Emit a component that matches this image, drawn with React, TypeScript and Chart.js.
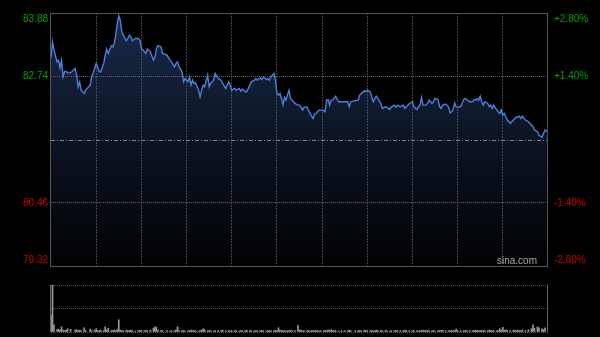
import React, { useEffect, useRef } from 'react';
import { Chart, registerables } from 'chart.js';

Chart.register(...registerables);

// ---- data ----
const minutes = [
  0, 1, 2, 4, 5, 6, 7, 8, 9, 10, 11, 13, 16, 17, 18, 19, 20, 22, 23, 26,
  27, 29, 30, 31, 32, 33, 35, 36, 37, 38, 40, 41, 42, 43, 44, 45, 46, 47, 48, 50,
  51, 52, 53, 54, 56, 58, 59, 60, 62, 63, 64, 66, 68, 69, 70, 71, 73, 74, 77, 79,
  80, 82, 83, 84, 85, 87, 88, 89, 91, 92, 93, 94, 95, 96, 98, 99, 100, 101, 102, 104,
  105, 106, 108, 109, 111, 113, 114, 116, 118, 119, 120, 122, 123, 125, 126, 127, 129, 130, 132, 133,
  135, 136, 137, 139, 140, 141, 143, 144, 145, 146, 148, 149, 150, 151, 152, 153, 154, 155, 156, 157,
  158, 159, 160, 162, 164, 165, 166, 167, 168, 170, 171, 172, 173, 174, 175, 176, 177, 178, 179, 181,
  182, 183, 184, 185, 186, 187, 188, 189, 191, 193, 195, 197, 198, 199, 202, 204, 205, 206, 208, 209,
  210, 212, 213, 214, 215, 216, 217, 219, 220, 222, 223, 225, 226, 228, 229, 230, 232, 234, 235, 236,
  238, 240, 241, 243, 244, 245, 246, 247, 248, 249, 250, 251, 253, 254, 255, 257, 258, 259, 260, 262,
  264, 265, 266, 267, 268, 269, 270, 272, 274, 275, 276, 278, 280, 281, 282, 283, 284, 285, 286, 287,
  288, 290, 291, 292, 293, 294, 296, 297, 298, 299, 300, 301, 302, 303, 305, 307, 308, 309, 310, 311,
  312, 313, 315, 317, 319, 320, 321, 323, 324, 326, 327, 328, 330,
];

const prices = [
  83.07, 83.36, 83.21, 83.0, 83.03, 82.89, 83.03, 82.73, 82.82, 82.83, 82.8, 82.8, 82.88, 82.76, 82.55, 82.64, 82.49, 82.43, 82.49, 82.58,
  82.73, 82.88, 82.97, 82.91, 82.82, 82.82, 82.97, 83.12, 83.23, 83.15, 83.29, 83.27, 83.33, 83.48, 83.69, 83.83, 83.75, 83.54, 83.48, 83.38,
  83.42, 83.48, 83.45, 83.38, 83.42, 83.42, 83.39, 83.24, 83.18, 83.15, 83.23, 83.18, 83.03, 83.09, 83.24, 83.29, 83.27, 83.15, 83.12, 83.03,
  83.0, 82.91, 82.97, 83.0, 82.91, 82.82, 82.64, 82.7, 82.64, 82.73, 82.58, 82.67, 82.61, 82.62, 82.49, 82.37, 82.49, 82.58, 82.55, 82.76,
  82.55, 82.61, 82.67, 82.79, 82.7, 82.67, 82.61, 82.52, 82.64, 82.58, 82.49, 82.52, 82.49, 82.52, 82.47, 82.51, 82.46, 82.46, 82.58, 82.64,
  82.67, 82.7, 82.67, 82.71, 82.68, 82.73, 82.68, 82.7, 82.67, 82.73, 82.79, 82.67, 82.43, 82.4, 82.43, 82.34, 82.22, 82.36, 82.31, 82.4,
  82.49, 82.34, 82.31, 82.25, 82.22, 82.22, 82.18, 82.13, 82.18, 82.19, 82.12, 82.07, 82.02, 81.98, 82.06, 82.07, 82.1, 82.13, 82.13, 82.12,
  82.1, 82.31, 82.32, 82.22, 82.31, 82.31, 82.34, 82.38, 82.28, 82.28, 82.28, 82.28, 82.19, 82.28, 82.3, 82.31, 82.4, 82.43, 82.48, 82.46,
  82.49, 82.46, 82.36, 82.28, 82.34, 82.38, 82.34, 82.25, 82.16, 82.19, 82.18, 82.14, 82.19, 82.22, 82.18, 82.22, 82.19, 82.22, 82.16, 82.19,
  82.25, 82.28, 82.19, 82.14, 82.19, 82.22, 82.36, 82.22, 82.22, 82.22, 82.25, 82.31, 82.25, 82.28, 82.34, 82.32, 82.19, 82.16, 82.22, 82.24,
  82.19, 82.08, 82.1, 82.14, 82.26, 82.19, 82.18, 82.19, 82.32, 82.34, 82.32, 82.28, 82.28, 82.32, 82.31, 82.34, 82.31, 82.38, 82.28, 82.22,
  82.28, 82.25, 82.19, 82.22, 82.16, 82.22, 82.13, 82.1, 82.07, 82.13, 82.04, 82.07, 82.01, 81.95, 81.89, 81.95, 81.98, 82.01, 82.0, 82.02,
  81.98, 82.02, 81.95, 81.92, 81.86, 81.83, 81.77, 81.74, 81.68, 81.64, 81.71, 81.77, 81.74,
];

const volumes = [
  36, 100, 15, 5, 6, 4, 11, 4, 3, 4, 7, 6, 4, 5, 3, 4, 3, 9, 3, 6,
  3, 4, 7, 3, 3, 4, 3, 11, 4, 8, 3, 3, 4, 3, 5, 26, 4, 3, 3, 4,
  3, 3, 4, 3, 2, 3, 3, 4, 3, 3, 3, 4, 8, 11, 10, 4, 3, 3, 3, 2,
  3, 3, 4, 11, 3, 3, 3, 2, 3, 3, 4, 3, 3, 3, 2, 3, 4, 7, 5, 3,
  3, 3, 2, 3, 3, 3, 4, 3, 3, 2, 3, 3, 3, 2, 3, 3, 3, 4, 3, 3,
  3, 2, 3, 3, 3, 3, 2, 3, 3, 3, 3, 3, 3, 9, 4, 3, 3, 3, 2, 3,
  3, 3, 3, 3, 14, 4, 4, 3, 3, 3, 3, 2, 3, 3, 3, 3, 3, 2, 3, 3,
  3, 3, 4, 3, 5, 3, 3, 3, 2, 3, 3, 3, 4, 3, 3, 3, 3, 3, 4, 3,
  3, 3, 3, 2, 3, 4, 3, 3, 3, 3, 3, 2, 3, 3, 3, 3, 3, 3, 4, 3,
  3, 3, 3, 3, 2, 3, 3, 4, 3, 3, 3, 3, 3, 3, 2, 3, 3, 3, 4, 3,
  3, 3, 3, 3, 3, 6, 3, 3, 3, 3, 3, 3, 3, 3, 4, 3, 3, 3, 3, 3,
  3, 3, 4, 3, 3, 3, 3, 3, 7, 4, 10, 4, 4, 3, 3, 4, 3, 3, 4, 3,
  3, 4, 3, 5, 7, 15, 8, 11, 9, 7, 5, 9, 6,
];

const prevClose = 81.6;
const priceTicks = [79.32, 80.46, 81.6, 82.74, 83.88];
const pctTicks = [-2.8, -1.4, 0, 1.4, 2.8];
const timeTicks = [0, 30, 60, 90, 120, 150, 180, 210, 240, 270, 300, 330];
const volumeTicks = [0, 50, 100];
const watermark = 'sina.com';

// ---- styles ----
const FONT = "'Liberation Sans', Arial, Helvetica, sans-serif";
const UP = '#00a000';
const DOWN = '#cc0000';
const TRANSPARENT = 'rgba(0,0,0,0)';

const fixWidth = (w: number) => (s: any) => {
  s.width = w;
  s.paddingTop = 0;
  s.paddingBottom = 0;
};

export default function App() {
  const mainRef = useRef<HTMLCanvasElement | null>(null);
  const volRef = useRef<HTMLCanvasElement | null>(null);

  useEffect(() => {
    document.body.style.margin = '0';
    document.body.style.background = '#000';

    const pMin = priceTicks[0];
    const pMax = priceTicks[priceTicks.length - 1];
    const qMin = pctTicks[0];
    const qMax = pctTicks[pctTicks.length - 1];

    const overlay = {
      id: 'mainOverlay',
      afterDatasetsDraw(chart: any) {
        const { ctx, chartArea, scales } = chart;
        const y = scales.y.getPixelForValue(prevClose);
        ctx.save();
        ctx.strokeStyle = '#7a8494';
        ctx.lineWidth = 1;
        ctx.setLineDash([4, 2, 1, 2]);
        ctx.beginPath();
        ctx.moveTo(chartArea.left, Math.round(y) + 0.5);
        ctx.lineTo(chartArea.right, Math.round(y) + 0.5);
        ctx.stroke();
        ctx.setLineDash([]);
        ctx.strokeStyle = '#555';
        ctx.strokeRect(
          chartArea.left - 0.5,
          chartArea.top + 0.5,
          chartArea.right - chartArea.left,
          chartArea.bottom - chartArea.top
        );
        ctx.fillStyle = '#a8a8a8';
        ctx.font = `10px ${FONT}`;
        ctx.textAlign = 'right';
        ctx.textBaseline = 'middle';
        ctx.fillText(watermark, chartArea.right - 11, chartArea.bottom - 5);
        ctx.restore();
      },
    };

    const main = new Chart(mainRef.current as HTMLCanvasElement, {
      type: 'line',
      data: {
        datasets: [
          {
            data: minutes.map((m, i) => ({ x: m, y: prices[i] })),
            borderColor: '#4b7fd8',
            borderWidth: 1.4,
            pointRadius: 0,
            tension: 0,
            fill: 'start',
            backgroundColor: (c: any) => {
              const { chart } = c;
              const area = chart.chartArea;
              if (!area) return TRANSPARENT;
              const g = chart.ctx.createLinearGradient(0, area.top, 0, area.bottom);
              g.addColorStop(0, 'rgba(60,100,175,0.42)');
              g.addColorStop(0.5, 'rgba(60,100,175,0.2)');
              g.addColorStop(1, 'rgba(60,100,175,0.02)');
              return g;
            },
          },
        ],
      },
      options: {
        responsive: false,
        animation: false,
        devicePixelRatio: 1,
        events: [],
        layout: { padding: { top: 13, bottom: 4, left: 0, right: 0 } },
        plugins: { legend: { display: false }, tooltip: { enabled: false } },
        scales: {
          x: {
            type: 'linear',
            min: 0,
            max: 330,
            offset: false,
            afterBuildTicks: (s: any) => {
              s.ticks = timeTicks.map((v) => ({ value: v }));
            },
            afterFit: (s: any) => {
              s.height = 0;
              s.paddingLeft = 0;
              s.paddingRight = 0;
            },
            ticks: { display: false },
            border: { display: false, dash: [2, 1] },
            grid: {
              drawTicks: false,
              color: (c: any) =>
                c.tick && (c.tick.value === 0 || c.tick.value === 330) ? TRANSPARENT : '#444',
            },
          },
          y: {
            type: 'linear',
            position: 'left',
            min: pMin,
            max: pMax,
            afterBuildTicks: (s: any) => {
              s.ticks = priceTicks.map((v) => ({ value: v }));
            },
            afterFit: fixWidth(51),
            border: { display: false, dash: [1, 1] },
            grid: {
              drawTicks: false,
              color: (c: any) => {
                const v = c.tick ? c.tick.value : null;
                return v === pMin || v === pMax || v === prevClose ? TRANSPARENT : '#606060';
              },
            },
            ticks: {
              padding: 3,
              font: { family: FONT, size: 10 },
              color: (c: any) => (c.tick && c.tick.value > prevClose ? UP : DOWN),
              callback: (value: any) => {
                const v = Number(value);
                if (Math.abs(v - prevClose) < 1e-9) return '';
                const s = v.toFixed(2);
                if (v === pMax) return ['', s];
                if (v === pMin) return [s, ''];
                return s;
              },
            },
          },
          y2: {
            type: 'linear',
            position: 'right',
            min: qMin,
            max: qMax,
            afterBuildTicks: (s: any) => {
              s.ticks = pctTicks.map((v) => ({ value: v }));
            },
            afterFit: fixWidth(52),
            border: { display: false },
            grid: { display: false, drawTicks: false },
            ticks: {
              padding: 6,
              font: { family: FONT, size: 10 },
              color: (c: any) => (c.tick && c.tick.value > 0 ? UP : DOWN),
              callback: (value: any) => {
                const v = Number(value);
                if (v === 0) return '';
                const s = (v > 0 ? '+' : '') + v.toFixed(2) + '%';
                if (v === qMax) return ['', s];
                if (v === qMin) return [s, ''];
                return s;
              },
            },
          },
        },
      },
      plugins: [overlay],
    } as any);

    const volOverlay = {
      id: 'volOverlay',
      afterDatasetsDraw(chart: any) {
        const { ctx, chartArea } = chart;
        ctx.save();
        ctx.strokeStyle = '#666';
        ctx.lineWidth = 1;
        ctx.beginPath();
        ctx.moveTo(chartArea.left - 0.5, chartArea.top);
        ctx.lineTo(chartArea.left - 0.5, chartArea.bottom);
        ctx.moveTo(chartArea.right - 0.5, chartArea.top);
        ctx.lineTo(chartArea.right - 0.5, chartArea.bottom);
        ctx.stroke();
        ctx.restore();
      },
    };

    const vol = new Chart(volRef.current as HTMLCanvasElement, {
      type: 'bar',
      data: {
        datasets: [
          {
            data: minutes.map((m, i) => ({ x: m, y: volumes[i] })),
            backgroundColor: '#9a9a9a',
            borderWidth: 0,
            barThickness: 1,
            grouped: false,
          },
        ],
      },
      options: {
        responsive: false,
        animation: false,
        devicePixelRatio: 1,
        events: [],
        layout: { padding: { top: 5, bottom: 5, left: 51, right: 52 } },
        plugins: { legend: { display: false }, tooltip: { enabled: false } },
        scales: {
          x: {
            type: 'linear',
            min: 0,
            max: 330,
            offset: false,
            display: false,
            grid: { offset: false },
          },
          y: {
            type: 'linear',
            min: 0,
            max: 100,
            position: 'left',
            afterBuildTicks: (s: any) => {
              s.ticks = volumeTicks.map((v) => ({ value: v }));
            },
            afterFit: fixWidth(0),
            ticks: { display: false },
            border: { display: false, dash: [1, 1] },
            grid: { drawTicks: false, color: '#5a5a5a' },
          },
        },
      },
      plugins: [volOverlay],
    } as any);

    return () => {
      main.destroy();
      vol.destroy();
    };
  }, []);

  return (
    <div
      style={{
        position: 'absolute',
        left: 0,
        top: 0,
        width: 600,
        height: 337,
        background: '#000',
        overflow: 'hidden',
      }}
    >
      <canvas
        ref={mainRef}
        width={600}
        height={270}
        style={{ position: 'absolute', left: 0, top: 0, width: 600, height: 270, display: 'block' }}
      />
      <canvas
        ref={volRef}
        width={600}
        height={57}
        style={{ position: 'absolute', left: 0, top: 280, width: 600, height: 57, display: 'block' }}
      />
    </div>
  );
}
